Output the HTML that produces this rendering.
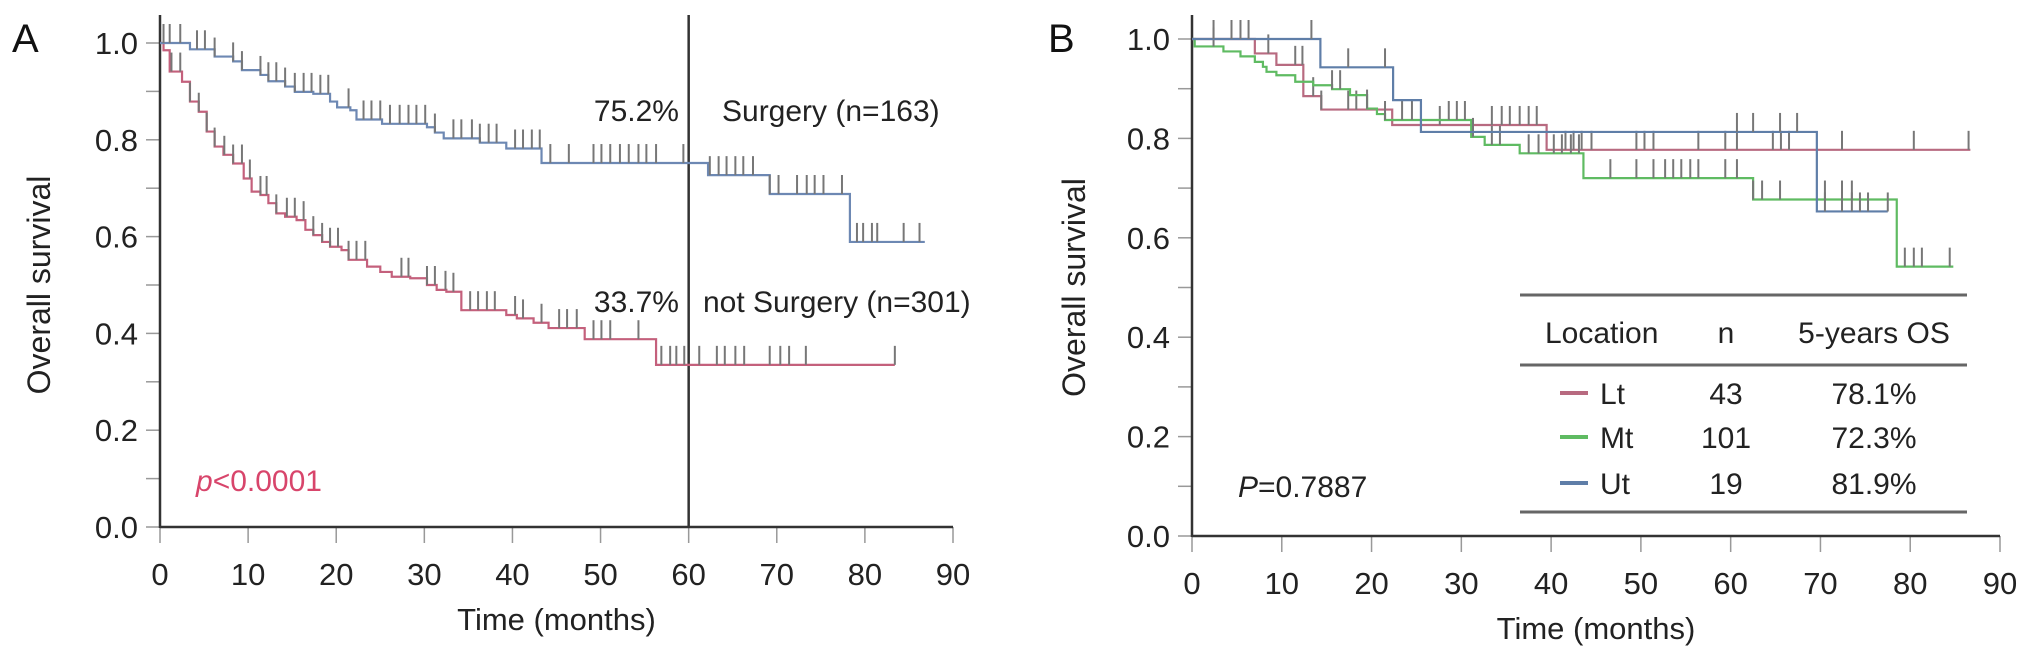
<!DOCTYPE html>
<html><head><meta charset="utf-8"><style>
body{margin:0;background:#fff;}
svg{display:block;font-family:"Liberation Sans",Arial,sans-serif;}
</style></head><body>
<svg id="s" width="2032" height="659" viewBox="0 0 2032 659" xmlns="http://www.w3.org/2000/svg"></svg>
<script>
// ---------- Panel A data ----------
const aXTicks=[0,10,20,30,40,50,60,70,80,90];
const aYTicks=[0.0,0.2,0.4,0.6,0.8,1.0];
const surgT=[0,3.4,6.2,8.3,9.3,11.4,12.3,14.2,15.3,17.4,19.3,20.1,21.6,22.3,25.2,30.3,31.2,32.2,36.3,39.3,43.3,62.2,69.2,78.3];
const surgS=[1.0,0.987,0.972,0.962,0.944,0.934,0.921,0.910,0.899,0.895,0.879,0.867,0.861,0.842,0.833,0.826,0.815,0.803,0.794,0.782,0.752,0.727,0.688,0.589];
const surgEnd=86.8;
const surgCens=[0.4,1.1,2.3,4.2,5.1,6.2,8.3,9.3,11.4,12.3,13.2,14.2,15.3,16.3,17.2,18.2,19.1,21.4,23.1,24.0,25.0,26.1,27.2,28.2,29.1,30.1,31.2,33.3,34.2,35.4,36.3,37.3,38.2,40.3,41.2,42.2,43.1,44.3,46.4,49.2,50.1,51.1,52.2,53.2,54.3,55.2,56.3,59.4,62.4,63.4,64.3,65.3,66.2,67.3,69.2,70.2,72.3,73.4,74.3,75.3,77.4,79.1,79.8,80.8,81.4,84.4,86.2];
const noT=[0,0.4,1.1,2.5,3.4,4.4,5.3,6.2,7.2,8.3,9.5,10.4,11.4,12.3,13.2,14.2,15.5,16.5,17.4,18.4,19.3,20.6,21.4,23.5,25.0,26.3,28.4,30.3,31.4,32.5,34.2,39.3,40.5,42.4,44.1,48.2,56.3];
const noS=[1.0,0.985,0.941,0.920,0.879,0.858,0.817,0.786,0.769,0.751,0.720,0.693,0.686,0.669,0.648,0.641,0.634,0.614,0.603,0.589,0.579,0.572,0.552,0.538,0.527,0.517,0.514,0.500,0.490,0.486,0.448,0.438,0.431,0.422,0.411,0.388,0.335];
const noEnd=83.4;
const noCens=[1.3,2.3,3.4,4.4,5.3,6.2,7.3,8.3,9.3,10.2,11.4,12.1,13.2,14.4,15.3,16.3,17.4,18.4,19.3,20.2,21.4,22.3,23.3,27.4,28.2,30.3,31.2,32.4,33.3,35.2,36.1,37.1,38.0,40.3,41.2,43.3,45.3,46.2,47.3,49.2,50.1,51.1,54.3,56.9,57.9,58.6,59.5,61.2,63.2,64.1,65.3,66.3,69.2,70.4,71.4,73.3,83.4];
// ---------- Panel B data ----------
const bXTicks=[0,10,20,30,40,50,60,70,80,90];
const bYTicks=[0.0,0.2,0.4,0.6,0.8,1.0];
const ltT=[0,7.0,9.4,12.4,14.4,22.3,39.5];
const ltS=[1.0,0.971,0.948,0.885,0.858,0.827,0.777];
const ltEnd=86.7;
const ltCens=[8.5,11.5,12.3,13.5,14.4,17.4,18.3,27.6,33.4,34.5,35.4,36.5,37.5,38.4,41.6,42.5,43.4,44.5,49.5,50.4,51.4,56.4,59.4,60.7,64.7,65.6,66.5,72.4,80.4,86.5];
const mtT=[0,0.3,3.5,5.4,7.0,7.9,8.3,9.4,11.5,13.5,15.6,17.6,19.5,20.6,21.5,31.1,32.6,36.5,43.6,62.5,78.5];
const mtS=[1.0,0.985,0.975,0.965,0.954,0.944,0.934,0.927,0.914,0.907,0.899,0.887,0.860,0.849,0.837,0.803,0.787,0.770,0.720,0.677,0.542];
const mtEnd=84.8;
const mtCens=[2.4,15.6,16.5,19.5,21.5,23.4,24.5,28.6,29.5,30.4,31.3,33.4,34.3,37.5,38.6,40.3,41.2,42.2,43.1,46.6,49.5,51.4,52.7,53.6,54.5,55.5,56.4,59.4,60.7,62.5,63.5,65.5,70.5,72.4,73.5,79.4,80.4,81.3,84.4];
const utT=[0,14.3,22.4,25.5,69.6];
const utS=[1.0,0.943,0.877,0.813,0.653];
const utEnd=77.5;
const utCens=[2.4,4.4,5.4,6.3,13.3,17.4,21.5,60.7,62.5,65.5,67.4,70.5,72.4,73.5,74.4,75.3,77.5];
// legend table values
const locNames=["Lt","Mt","Ut"];
const locN=["43","101","19"];
const locOS=["78.1%","72.3%","81.9%"];

const NS="http://www.w3.org/2000/svg";
const svg=document.getElementById('s');
function el(tag,attrs,parent,text){const e=document.createElementNS(NS,tag);for(const k in attrs)e.setAttribute(k,attrs[k]);if(text!==undefined)e.textContent=text;(parent||svg).appendChild(e);return e;}

function panel(cfg){
  const g=el('g',{});
  
  
  const X=t=>cfg.x0+(t/90)*(cfg.x1-cfg.x0);
  const Y=s=>cfg.y0-s*(cfg.y0-cfg.y1);
  // minor y ticks
  for(let i=0;i<=10;i++){const t=el('line',{x1:cfg.x0-14,x2:cfg.x0,y1:Y(i/10),y2:Y(i/10),stroke:'#999','stroke-width':1.5},g);}
  cfg.yTicks.forEach(v=>{const t=el('text',{x:cfg.x0-22,y:Y(v)+11,'text-anchor':'end','font-size':31,fill:'#222'},g,v.toFixed(1));});
  cfg.xTicks.forEach(v=>{const l=el('line',{x1:X(v),x2:X(v),y1:cfg.y0,y2:cfg.y0+16,stroke:'#999','stroke-width':1.5},g);
    const t=el('text',{x:X(v),y:cfg.y0+58,'text-anchor':'middle','font-size':31,fill:'#222'},g,String(v));});
  const ax=el('line',{x1:cfg.x0,x2:cfg.x0,y1:15,y2:cfg.y0+1,stroke:'#333','stroke-width':2.5},g);
  const bx=el('line',{x1:cfg.x0,x2:cfg.x1,y1:cfg.y0,y2:cfg.y0,stroke:'#333','stroke-width':2.5},g);
  const yt=el('text',{x:0,y:0,'text-anchor':'middle','font-size':32,fill:'#222',transform:`translate(${cfg.ytx},${(cfg.y0+cfg.y1)/2}) rotate(-90)`},g,'Overall survival');
  const xt=el('text',{x:(cfg.x0+cfg.x1)/2,y:cfg.y0+103,'text-anchor':'middle','font-size':31,fill:'#222'},g,'Time (months)');
  return {g,X,Y};
}
function curve(p,T,S,end,cens,color,name){
  let d=`M${p.X(T[0])},${p.Y(S[0])}`;
  for(let i=1;i<T.length;i++){d+=`H${p.X(T[i])}V${p.Y(S[i])}`;}
  d+=`H${p.X(end)}`;
  const path=el('path',{d,fill:'none',stroke:color,'stroke-width':2.2},p.g);
  
  
  cens.forEach(t=>{let s=S[0];for(let i=0;i<T.length;i++){if(T[i]<=t)s=S[i];}
    const m=el('line',{x1:p.X(t),x2:p.X(t),y1:p.Y(s),y2:p.Y(s)-19,stroke:'#777','stroke-width':2},p.g);
    
    });
}
// Panel A
const A=panel({name:'panel-a',x0:160,x1:953,y0:527,y1:43,xTicks:aXTicks,yTicks:aYTicks,ytx:50});
const vl=el('line',{x1:A.X(60),x2:A.X(60),y1:15,y2:527,stroke:'#333','stroke-width':2.5},A.g);

curve(A,noT,noS,noEnd,noCens,'#c4607c','not-surgery');
curve(A,surgT,surgS,surgEnd,surgCens,'#6d88b3','surgery');
[['A',12,52,40,'panel-a-label','start','#111'],['75.2%',679,121,30,'surgery-5y-value','end','#222'],['Surgery (n=163)',722,121,30,'surgery-label','start','#222'],['33.7%',679,312,30,'not-surgery-5y-value','end','#222'],['not Surgery (n=301)',703,312,30,'not-surgery-label','start','#222']].forEach(a=>{const t=el('text',{x:a[1],y:a[2],'font-size':a[3],'text-anchor':a[5],fill:a[6]},A.g,a[0]);});
const pv=el('text',{x:196,y:491,'font-size':30,fill:'#d8456b'},A.g);
el('tspan',{'font-style':'italic'},pv,'p');el('tspan',{},pv,'<0.0001');
// Panel B
const B=panel({name:'panel-b',x0:1192,x1:2000,y0:536,y1:39,xTicks:bXTicks,yTicks:bYTicks,ytx:1085});
curve(B,ltT,ltS,ltEnd,ltCens,'#b86a80','lt');
curve(B,mtT,mtS,mtEnd,mtCens,'#5fbb62','mt');
curve(B,utT,utS,utEnd,utCens,'#5f7ea8','ut');
const bl=el('text',{x:1048,y:52,'font-size':40,fill:'#111'},B.g,'B');
const pb=el('text',{x:1238,y:497,'font-size':30,fill:'#222'},B.g);
el('tspan',{'font-style':'italic'},pb,'P');el('tspan',{},pb,'=0.7887');
// legend table
const lg=el('g',{},B.g);


[295,365,512].forEach(y=>{const l=el('line',{x1:1520,x2:1967,y1:y,y2:y,stroke:'#666','stroke-width':3},lg);});
[['Location',1545,'start'],['n',1726,'middle'],['5-years OS',1874,'middle']].forEach(h=>{const t=el('text',{x:h[1],y:343,'font-size':30,'text-anchor':h[2],fill:'#222'},lg,h[0]);});
const legCols=['#b86a80','#5fbb62','#5f7ea8'];
const rowY=[393,437,483];
locNames.forEach((n,i)=>{
  const sw=el('line',{x1:1560,x2:1588,y1:rowY[i],y2:rowY[i],stroke:legCols[i],'stroke-width':4},lg);
  
  const a=el('text',{x:1600,y:rowY[i]+11,'font-size':30,fill:'#222'},lg,n);
  const b=el('text',{x:1726,y:rowY[i]+11,'font-size':30,'text-anchor':'middle',fill:'#222'},lg,locN[i]);
  const c=el('text',{x:1874,y:rowY[i]+11,'font-size':30,'text-anchor':'middle',fill:'#222'},lg,locOS[i]);
});
</script>
</body></html>
